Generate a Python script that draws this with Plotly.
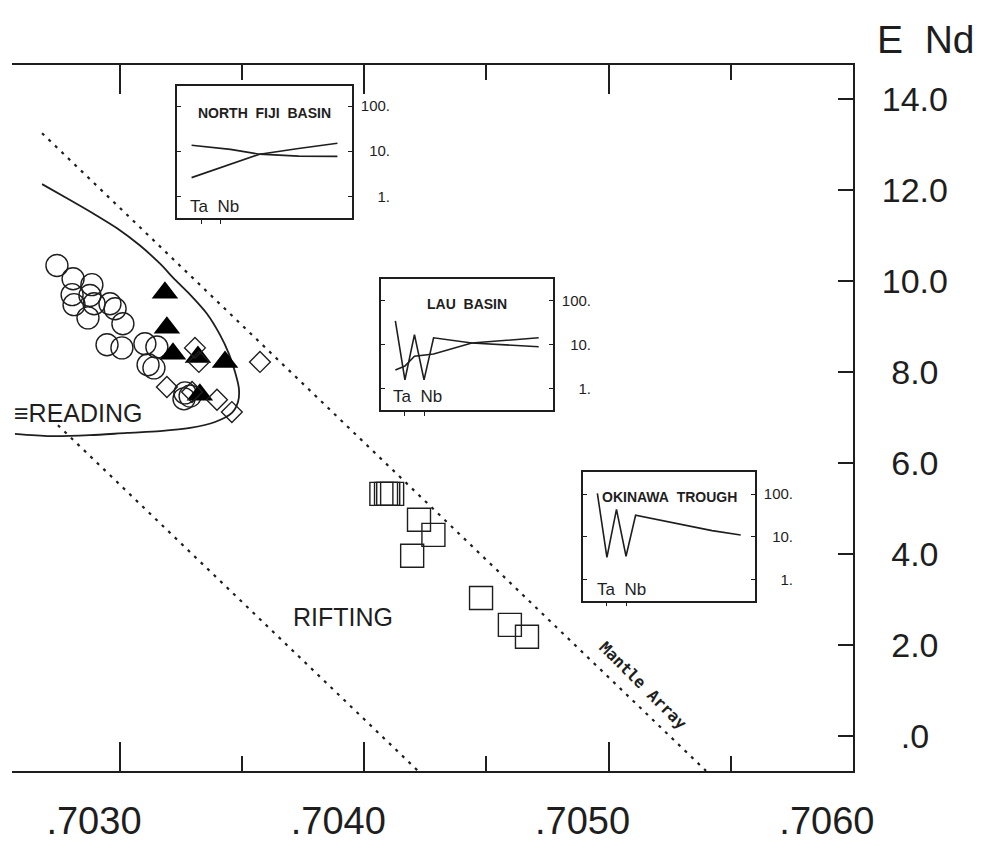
import plotly.graph_objects as go

# ---------------- main diagram data (87Sr/86Sr vs eps Nd) ----------------
circle_x = [0.702742, 0.702808, 0.702885, 0.702804, 0.702812, 0.702877, 0.702894,
            0.702869, 0.702959, 0.702980, 0.703012, 0.702947, 0.703008, 0.703102,
            0.703151, 0.703115, 0.703139, 0.703266, 0.703262, 0.703287]
circle_y = [10.34, 10.05, 9.92, 9.70, 9.48, 9.68, 9.50, 9.19, 9.50, 9.39, 9.06,
            8.60, 8.53, 8.62, 8.55, 8.16, 8.09, 7.54, 7.41, 7.47]

triangle_x = [0.703184, 0.703192, 0.703217, 0.703430, 0.703319, 0.703327]
triangle_y = [9.74, 8.97, 8.40, 8.22, 8.33, 7.50]

diamond_x = [0.703307, 0.703323, 0.703192, 0.703295, 0.703397, 0.703458, 0.703573]
diamond_y = [8.53, 8.22, 7.67, 7.56, 7.39, 7.12, 8.22]

square_x = [0.704070, 0.704089, 0.704098, 0.704114, 0.704224, 0.704283, 0.704196,
            0.704478, 0.704596, 0.704666]
square_y = [5.32, 5.32, 5.32, 5.32, 4.75, 4.42, 3.96, 3.03, 2.44, 2.18]

spreading_x = [0.702681, 0.702783, 0.702889, 0.702988, 0.703082, 0.703164, 0.703225,
               0.703287, 0.703356, 0.703409, 0.703446, 0.703471, 0.703487, 0.703483,
               0.703458, 0.703389, 0.703287, 0.703164, 0.703029, 0.702877, 0.702713,
               0.702570]
spreading_y = [12.13, 11.82, 11.49, 11.16, 10.78, 10.38, 10.03, 9.70, 9.28, 8.82,
               8.40, 8.00, 7.63, 7.34, 7.10, 6.90, 6.77, 6.70, 6.66, 6.61, 6.59, 6.64]

mantle_x = [0.702681, 0.705399]
mantle_y = [13.25, -0.77]
rift_x = [0.702746, 0.704220]
rift_y = [6.83, -0.77]

x_tick_vals = [0.7030, 0.7040, 0.7050, 0.7060]
x_tick_text = [".7030", ".7040", ".7050", ".7060"]
x_minor_vals = [0.7035, 0.7045, 0.7055]
y_tick_vals = [0, 2, 4, 6, 8, 10, 12, 14]
y_tick_text = ["\u2007.0", "\u20082.0", "\u20084.0", "\u20086.0", "\u20088.0",
               "10.0", "12.0", "14.0"]

# ---------------- inset spider diagrams ----------------
nf_a_idx = [0, 7, 11, 15]
nf_a_val = [2.6, 8.6, 11.5, 15]
nf_b_idx = [0, 4, 7, 11, 15]
nf_b_val = [13.5, 11, 8.6, 7.8, 7.7]

lau_a_idx = [0, 1, 2, 3, 4, 8, 15]
lau_a_val = [35, 1.6, 17, 1.6, 14.4, 11, 9]
lau_b_idx = [0, 1, 2, 4, 8, 15]
lau_b_val = [2.7, 3.3, 5.5, 6.2, 11, 14.4]

ok_idx = [0, 1, 2, 3, 4, 8, 12, 15]
ok_val = [105, 3.3, 44, 3.5, 32, 21, 14, 11]

inset_tick_vals = [1, 10, 100]
inset_tick_text = ["\u2007\u20071.", "\u200710.", "100."]
inset_el_ticks = [1, 3]

INK = "#1e1e1e"
FONT = "Liberation Sans, Arial, sans-serif"

fig = go.Figure()

dot = "3px,6px"
fig.add_trace(go.Scatter(x=mantle_x, y=mantle_y, mode="lines",
                         line=dict(color=INK, width=2.2, dash=dot)))
fig.add_trace(go.Scatter(x=rift_x, y=rift_y, mode="lines",
                         line=dict(color=INK, width=2.2, dash=dot)))
fig.add_trace(go.Scatter(x=spreading_x, y=spreading_y, mode="lines",
                         line=dict(color=INK, width=1.8, shape="spline", smoothing=0.8)))

fig.add_trace(go.Scatter(x=circle_x, y=circle_y, mode="markers",
                         marker=dict(symbol="circle-open", size=22, color=INK,
                                     line=dict(width=1.4))))
fig.add_trace(go.Scatter(x=triangle_x, y=triangle_y, mode="markers",
                         marker=dict(symbol="triangle-up", size=23, color="#000",
                                     line=dict(width=0))))
fig.add_trace(go.Scatter(x=diamond_x, y=diamond_y, mode="markers",
                         marker=dict(symbol="diamond-open", size=16, color=INK,
                                     line=dict(width=1.4))))
fig.add_trace(go.Scatter(x=square_x, y=square_y, mode="markers",
                         marker=dict(symbol="square-open", size=23, color=INK,
                                     line=dict(width=1.4))))

# insets
for idx, val, ax in [(nf_a_idx, nf_a_val, "2"), (nf_b_idx, nf_b_val, "2"),
                     (lau_a_idx, lau_a_val, "3"), (lau_b_idx, lau_b_val, "3"),
                     (ok_idx, ok_val, "4")]:
    fig.add_trace(go.Scatter(x=idx, y=val, mode="lines", xaxis="x" + ax, yaxis="y" + ax,
                             line=dict(color=INK, width=1.6)))

layout = dict(
    width=970, height=838,
    margin=dict(l=4, r=125, t=57, b=69),
    paper_bgcolor="white", plot_bgcolor="white",
    showlegend=False,
    font=dict(family=FONT, color=INK),
    xaxis=dict(domain=[0, 1], range=[0.702558, 0.7060005],
               showline=True, linecolor=INK, linewidth=2, mirror="ticks",
               ticks="inside", ticklen=29, tickwidth=1.6, tickcolor=INK,
               tickvals=x_tick_vals, ticktext=x_tick_text,
               tickfont=dict(size=38, family=FONT, color=INK),
               ticklabelshift=-26, ticklabelstandoff=15,
               showgrid=False, zeroline=False,
               minor=dict(tickvals=x_minor_vals, ticks="inside", ticklen=15,
                          tickwidth=1.6, tickcolor=INK, showgrid=False)),
    yaxis=dict(domain=[0, 1], range=[-0.772, 14.749], side="right", anchor="x",
               showline=True, linecolor=INK, linewidth=2,
               ticks="inside", ticklen=15, tickwidth=1.6, tickcolor=INK,
               tickvals=y_tick_vals, ticktext=y_tick_text,
               tickfont=dict(size=34, family=FONT, color=INK),
               ticklabelstandoff=20, showgrid=False, zeroline=False),
)

insets = [
    ("2", [0.1962, 0.4043], [0.7827, 0.9702], [-0.489, 2.444]),
    ("3", [0.4388, 0.6433], [0.5114, 0.6974], [-0.477, 2.5]),
    ("4", [0.6790, 0.8835], [0.2415, 0.4233], [-0.494, 2.518]),
]
for ax, xd, yd, yr in insets:
    layout["xaxis" + ax] = dict(domain=xd, anchor="y" + ax, range=[-1.5, 16.5],
                                showline=True, linecolor=INK, linewidth=1.6, mirror=True,
                                ticks="outside", ticklen=4, tickwidth=1.2, tickcolor=INK,
                                tickvals=inset_el_ticks, showticklabels=False,
                                showgrid=False, zeroline=False)
    layout["yaxis" + ax] = dict(domain=yd, anchor="x" + ax, type="log", range=yr,
                                side="right", showline=True, linecolor=INK, linewidth=1.6,
                                mirror="ticks", ticks="inside", ticklen=4, tickwidth=1.2,
                                tickcolor=INK, tickvals=inset_tick_vals,
                                ticktext=inset_tick_text,
                                tickfont=dict(size=15, family=FONT, color=INK),
                                ticklabelstandoff=4, showgrid=False, zeroline=False)

fig.update_layout(**layout)

ann = [
    dict(text="E\u00a0\u00a0Nd", xref="paper", yref="paper", x=1.147, y=1.0,
         xanchor="right", yanchor="bottom", yshift=2, showarrow=False,
         font=dict(size=39, family=FONT, color=INK)),
    dict(text="RIFTING", xref="x", yref="y", x=0.703913, y=2.62, showarrow=False,
         font=dict(size=25, family=FONT, color=INK)),
    dict(text="\u2261READING", xref="x", yref="y", x=0.702558, y=7.10, xanchor="left",
         showarrow=False, font=dict(size=25, family=FONT, color=INK)),
    dict(text="<b>Mantle Array</b>", xref="x", yref="y", x=0.705141, y=1.10,
         textangle=45, showarrow=False,
         font=dict(size=16, family="DejaVu Sans Mono, monospace", color=INK)),
]
titles = [("2", "NORTH\u00a0\u00a0FIJI\u00a0\u00a0BASIN", 0.871, 0.063, 0.091),
          ("3", "LAU\u00a0\u00a0BASIN", 0.885, 0.058, 0.099),
          ("4", "OKINAWA\u00a0\u00a0TROUGH", 0.883, 0.07, 0.086)]
for ax, t, ty, lx, ly in titles:
    ann.append(dict(text="<b>" + t + "</b>", xref="x" + ax + " domain",
                    yref="y" + ax + " domain", x=0.5, y=ty, showarrow=False,
                    font=dict(size=14, family=FONT, color=INK)))
    ann.append(dict(text="Ta\u00a0\u00a0Nb", xref="x" + ax + " domain",
                    yref="y" + ax + " domain", x=lx, y=ly, xanchor="left",
                    yanchor="middle", showarrow=False,
                    font=dict(size=17, family=FONT, color=INK)))
fig.update_layout(annotations=ann)

fig.write_html("out.html")
